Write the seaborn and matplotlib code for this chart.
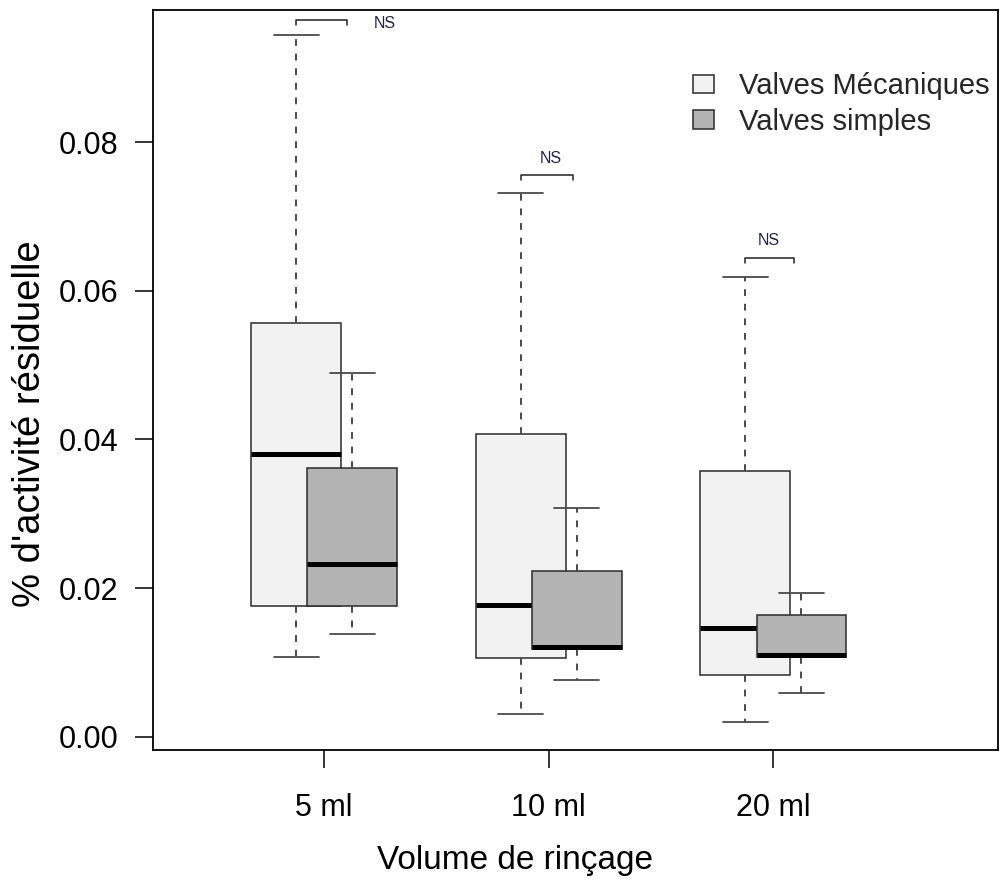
import numpy as np
import pandas as pd
import matplotlib
matplotlib.use("Agg")
import matplotlib.pyplot as plt
import seaborn as sns
from matplotlib.patches import Patch

# ---- data (five-number summaries: min, Q1, median, Q3, max)
volumes = ["5 ml", "10 ml", "20 ml"]
groups = ["Valves Mécaniques", "Valves simples"]
meca_5 = [0.0108, 0.0176, 0.0381, 0.0557, 0.0944]
meca_10 = [0.0031, 0.0106, 0.0177, 0.0407, 0.0732]
meca_20 = [0.0020, 0.0083, 0.0147, 0.0358, 0.0619]
simple_5 = [0.0138, 0.0176, 0.0232, 0.0362, 0.0489]
simple_10 = [0.0077, 0.0118, 0.0121, 0.0223, 0.0308]
simple_20 = [0.0059, 0.0108, 0.0110, 0.0164, 0.0194]
yticks = [0.00, 0.02, 0.04, 0.06, 0.08]
ns_labels = ["NS", "NS", "NS"]

series = {groups[0]: [meca_5, meca_10, meca_20],
          groups[1]: [simple_5, simple_10, simple_20]}
offsets = {groups[0]: -0.125, groups[1]: 0.125}

rows = []
for g, lists in series.items():
    for i, vals in enumerate(lists):
        for v in vals:
            rows.append({"group": g, "volume": volumes[i], "pos": i + 1 + offsets[g], "value": v})
df = pd.DataFrame(rows)

sns.set_theme(style="white")
plt.rcParams["font.family"] = ["Liberation Sans", "DejaVu Sans"]

W, H, DPI = 1001, 894, 100
fig = plt.figure(figsize=(W / DPI, H / DPI), dpi=DPI)
ax_l, ax_r, ax_t, ax_b = 153, 998, 10, 750
ax = fig.add_axes([ax_l / W, 1 - ax_b / H, (ax_r - ax_l) / W, (ax_b - ax_t) / H])

fills = {groups[0]: "#F2F2F2", groups[1]: "#B3B3B3"}
edge = "#2b2b2b"
wcol = "#4a4a4a"

for k, g in enumerate(groups):
    n_lines, n_patches = len(ax.lines), len(ax.patches)
    sns.boxplot(data=df[df["group"] == g], x="pos", y="value", native_scale=True,
                orient="x", width=0.4, whis=np.inf, color=fills[g], saturation=1,
                linecolor=edge, linewidth=1.1, showfliers=False,
                medianprops=dict(color="black", linewidth=3.6, solid_capstyle="butt"),
                whiskerprops=dict(color=wcol, linewidth=1.4, linestyle=(0, (3.5, 4))),
                capprops=dict(color=wcol, linewidth=1.3),
                ax=ax)
    for a in ax.lines[n_lines:]:
        a.set_zorder(a.get_zorder() + 2 * k)
    for a in ax.patches[n_patches:]:
        a.set_zorder(a.get_zorder() + 2 * k)

# significance brackets
br_x0 = [0.875, 1.875, 2.875]
br_x1 = [1.10, 2.11, 3.09]
br_y = [0.0964, 0.0756, 0.0644]
ns_x = [1.272, 2.01, 2.98]
ns_y = [0.0960, 0.0778, 0.0668]
for i in range(3):
    ax.plot([br_x0[i], br_x0[i], br_x1[i], br_x1[i]],
            [br_y[i] - 0.0007, br_y[i], br_y[i], br_y[i] - 0.0007],
            color="#222222", linewidth=1.1, zorder=6)
    ax.text(ns_x[i], ns_y[i], ns_labels[i], ha="center", va="center",
            fontsize=11.5, color="#222244", zorder=6)

ax.set_xlim(0.238, 4.0)
ax.set_ylim(-0.00175, 0.09775)
ax.set_xticks([1, 2, 3], volumes)
ax.set_yticks(yticks, [f"{t:.2f}" for t in yticks])
for s in ax.spines.values():
    s.set_visible(True)
    s.set_color("black")
    s.set_linewidth(1.3)
ax.tick_params(axis="both", which="both", direction="out", length=13, width=1.1,
               color="black", labelsize=22, labelcolor="black")
ax.tick_params(axis="x", pad=18, bottom=True, top=False)
ax.tick_params(axis="y", pad=12, left=True, right=False)

ax.set_xlabel("Volume de rinçage", fontsize=24, color="black")
ax.set_ylabel("% d'activité résiduelle", fontsize=27.5, color="black")
ax.xaxis.label.set_verticalalignment("center")
ax.yaxis.label.set_verticalalignment("center")
ax.xaxis.set_label_coords((515 - ax_l) / (ax_r - ax_l), (ax_b - 860) / (ax_b - ax_t))
ax.yaxis.set_label_coords((30 - ax_l) / (ax_r - ax_l), (ax_b - 424) / (ax_b - ax_t))

handles = [Patch(facecolor=fills[g], edgecolor=edge, linewidth=1.1, label=g) for g in groups]
leg = ax.legend(handles=handles, loc="upper left",
                bbox_to_anchor=((673 - ax_l) / (ax_r - ax_l), (ax_b - 52) / (ax_b - ax_t)),
                frameon=False, fontsize=21, handlelength=0.7, handleheight=0.6,
                handletextpad=0.85, labelspacing=0.25, borderpad=0.2)

fig.savefig("out.png", dpi=DPI)
